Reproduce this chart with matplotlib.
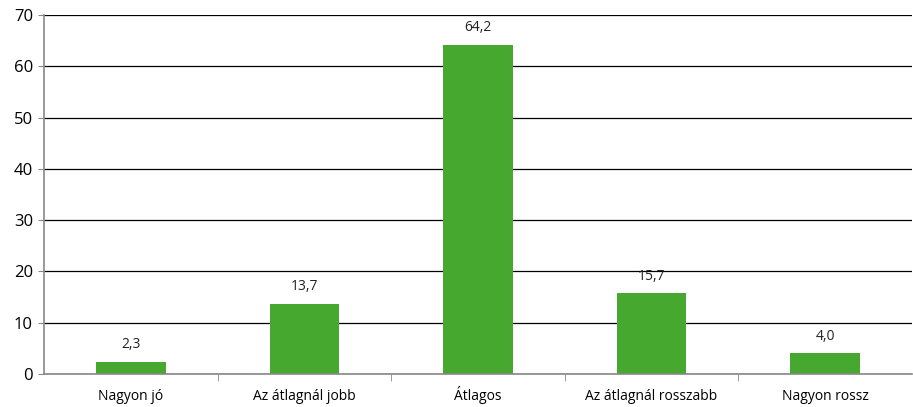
import numpy as np
import matplotlib.pyplot as plt

categories = ['Nagyon jó', 'Az átlagnál jobb', 'Átlagos', 'Az átlagnál rosszabb', 'Nagyon rossz']
values = [2.3, 13.7, 64.2, 15.7, 4.0]
labels = ['2,3', '13,7', '64,2', '15,7', '4,0']

plt.rcParams['font.family'] = ['Open Sans', 'DejaVu Sans']

fig = plt.figure(figsize=(9.13, 4.07), dpi=100)
ax = fig.add_axes([44/913, 33/407, 868/913, 359/407])

x = np.arange(len(categories))
ax.bar(x, values, width=0.4, color='#46a82f', zorder=3)
for xi, v, t in zip(x, values, labels):
    ax.annotate(t, (xi, v), xytext=(0, 7), textcoords='offset points',
                ha='center', va='bottom', fontsize=10, color='#222222')

ax.set_xlim(-0.5, len(categories) - 0.5)
ax.set_ylim(0, 70)
ax.set_yticks(range(0, 71, 10))
ax.tick_params(axis='y', labelsize=12, length=4, color='#888888', pad=4)
ax.yaxis.grid(True, color='black', linewidth=0.9, zorder=0)

ax.set_xticks(x)
ax.set_xticklabels(categories, fontsize=10)
ax.tick_params(axis='x', length=0, pad=19)
for lab in ax.get_xticklabels():
    lab.set_verticalalignment('baseline')
ax.set_xticks(np.arange(0.5, len(categories) - 0.5, 1), minor=True)
ax.tick_params(axis='x', which='minor', length=5, color='#888888')

for s in ['top', 'right']:
    ax.spines[s].set_visible(False)
for s in ['left', 'bottom']:
    ax.spines[s].set_color('#888888')
    ax.spines[s].set_linewidth(1.2)
    ax.spines[s].set_zorder(4)

fig.savefig('out.png', dpi=100)
